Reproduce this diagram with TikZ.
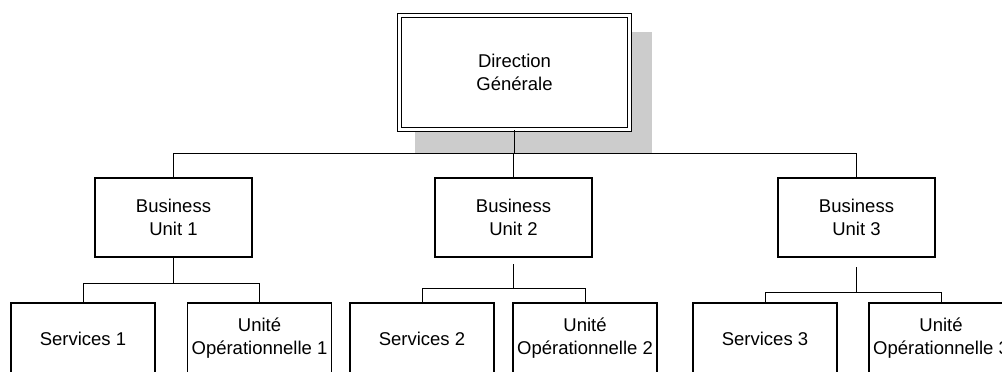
\documentclass[tikz,border=0pt]{standalone}
\usepackage{fontspec}
\setmainfont{Liberation Sans}
\begin{document}
\begin{tikzpicture}[x=1pt,y=-1pt,
  box/.style={draw, line width=1.2pt, fill=white, align=center, inner sep=0pt,
    font=\fontsize{18.5}{23}\selectfont},
  top/.style={box, double=white, double distance=2.4pt, line width=1.3pt,
    minimum width=230pt, minimum height=114pt},
  bu/.style={box, minimum width=157pt, minimum height=79pt},
  leaf/.style={box, minimum width=144pt, minimum height=71pt},
  link/.style={line width=0.9pt},
  shadowbox/.style={fill=black!20}
]
\clip (0,0) rectangle (1002,372);
% shadow
\fill[shadowbox] (415,32) rectangle (652,153);
% nodes
\node[top] (dg) at (514.5,72.5) {Direction\\Générale};
\node[bu] (bu1) at (173.5,217.5) {Business\\Unit 1};
\node[bu] (bu2) at (513.5,217.5) {Business\\Unit 2};
\node[bu] (bu3) at (856.5,217.5) {Business\\Unit 3};
\node[leaf] (s1) at (83,338.5) {Services 1};
\node[leaf] (u1) at (259.5,338.5) {Unité\\Opérationnelle 1};
\node[leaf] (s2) at (422,338.5) {Services 2};
\node[leaf] (u2) at (585,338.5) {Unité\\Opérationnelle 2};
\node[leaf] (s3) at (765,338.5) {Services 3};
\node[leaf] (u3) at (941,338.5) {Unité\\Opérationnelle 3};
% connector levels
\coordinate (h0) at (0,153);
\coordinate (h1) at (0,283);
\coordinate (h2) at (0,288);
\coordinate (h3) at (0,292);
\coordinate (g2) at (0,264);
\coordinate (g3) at (0,267);
% top level
\draw[link] (dg.south) -- (dg.south |- h0);
\draw[link] (bu1.north) -- (bu1.north |- h0) -- (bu3.north |- h0) -- (bu3.north);
\draw[link] (bu2.north) -- (bu2.north |- h0);
% unit 1
\draw[link] (bu1.south) -- (bu1.south |- h1);
\draw[link] (s1.north) -- (s1.north |- h1) -- (u1.north |- h1) -- (u1.north);
% unit 2
\draw[link] (bu2.south |- g2) -- (bu2.south |- h2);
\draw[link] (s2.north) -- (s2.north |- h2) -- (u2.north |- h2) -- (u2.north);
% unit 3
\draw[link] (bu3.south |- g3) -- (bu3.south |- h3);
\draw[link] (s3.north) -- (s3.north |- h3) -- (u3.north |- h3) -- (u3.north);
\end{tikzpicture}
\end{document}
